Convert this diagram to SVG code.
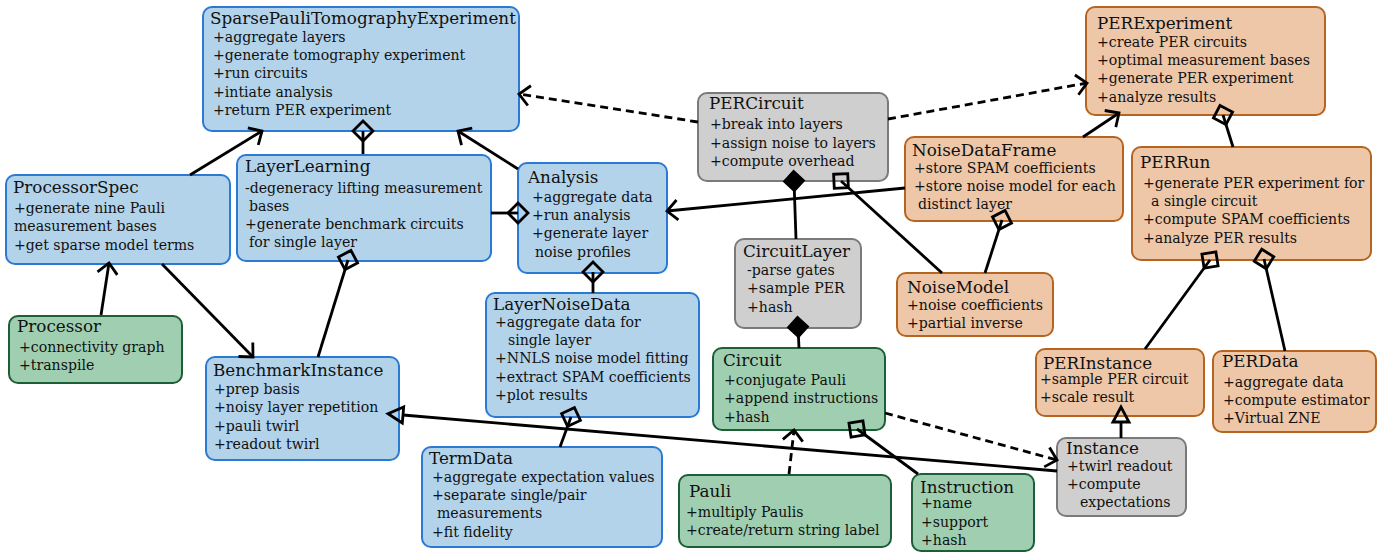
<svg xmlns="http://www.w3.org/2000/svg" width="1391" height="552" viewBox="0 0 1391 552">
<style>
.box{stroke-width:2}
.blue{fill:#b3d3ea;stroke:#2a7ad3}
.green{fill:#9fcfb0;stroke:#1c5e35}
.orange{fill:#edc7a8;stroke:#b5651f}
.gray{fill:#cfcfcf;stroke:#7a7a7a}
.t{font-family:"DejaVu Serif",serif;font-size:16.8px;fill:#111}
.b{font-family:"DejaVu Serif",serif;font-size:14.1px;fill:#111}
.ln{fill:none;stroke:#000;stroke-width:2.8}
.dash{stroke-dasharray:8 5}
</style>
<defs>
<marker id="arr" viewBox="-20 -15 40 30" markerWidth="40" markerHeight="30" refX="0" refY="0" orient="auto" markerUnits="userSpaceOnUse" overflow="visible">
<path d="M-10.5,-10 L0,0 L-10.5,10" fill="none" stroke="#000" stroke-width="2.8" stroke-linejoin="miter"/>
</marker>
<marker id="odia" viewBox="-15 -15 30 30" markerWidth="30" markerHeight="30" refX="0" refY="0" orient="auto" markerUnits="userSpaceOnUse" overflow="visible">
<path d="M-10,0 L0,-10 L10,0 L0,10 Z" fill="none" stroke="#000" stroke-width="2.8"/>
</marker>
<marker id="fdia" viewBox="-15 -15 30 30" markerWidth="30" markerHeight="30" refX="0" refY="0" orient="auto" markerUnits="userSpaceOnUse" overflow="visible">
<path d="M-10,0 L0,-10 L10,0 L0,10 Z" fill="#000" stroke="#000" stroke-width="2"/>
</marker>
<marker id="tri" viewBox="-5 -15 30 30" markerWidth="30" markerHeight="30" refX="0" refY="0" orient="auto" markerUnits="userSpaceOnUse" overflow="visible">
<path d="M0,-8 L15,0 L0,8 Z" fill="none" stroke="#000" stroke-width="2.8" stroke-linejoin="miter"/>
</marker>
</defs>

<g id="SparsePauliTomographyExperiment">
<rect class="box blue" x="203" y="7" width="316" height="124" rx="9"/>
<text class="t" x="210" y="24">SparsePauliTomographyExperiment</text>
<text class="b" x="213" y="42">+aggregate layers</text>
<text class="b" x="213" y="60">+generate tomography experiment</text>
<text class="b" x="213" y="78">+run circuits</text>
<text class="b" x="213" y="97">+intiate analysis</text>
<text class="b" x="213" y="115">+return PER experiment</text>
</g>
<g id="ProcessorSpec">
<rect class="box blue" x="6" y="175" width="224" height="89" rx="9"/>
<text class="t" x="13" y="193">ProcessorSpec</text>
<text class="b" x="14" y="213">+generate nine Pauli</text>
<text class="b" x="14" y="231">measurement bases</text>
<text class="b" x="14" y="250">+get sparse model terms</text>
</g>
<g id="LayerLearning">
<rect class="box blue" x="237" y="155" width="254" height="106" rx="9"/>
<text class="t" x="245" y="172">LayerLearning</text>
<text class="b" x="245" y="193">-degeneracy lifting measurement</text>
<text class="b" x="249" y="211">bases</text>
<text class="b" x="245" y="229">+generate benchmark circuits</text>
<text class="b" x="249" y="247">for single layer</text>
</g>
<g id="Analysis">
<rect class="box blue" x="518" y="163" width="149" height="110" rx="9"/>
<text class="t" x="528" y="183">Analysis</text>
<text class="b" x="532" y="202">+aggregate data</text>
<text class="b" x="532" y="220">+run analysis</text>
<text class="b" x="532" y="238">+generate layer</text>
<text class="b" x="535" y="257">noise profiles</text>
</g>
<g id="LayerNoiseData">
<rect class="box blue" x="486" y="293" width="213" height="124" rx="9"/>
<text class="t" x="493" y="310">LayerNoiseData</text>
<text class="b" x="495" y="327">+aggregate data for</text>
<text class="b" x="508" y="345">single layer</text>
<text class="b" x="495" y="363">+NNLS noise model fitting</text>
<text class="b" x="495" y="382">+extract SPAM coefficients</text>
<text class="b" x="495" y="400">+plot results</text>
</g>
<g id="TermData">
<rect class="box blue" x="422" y="447" width="240" height="100" rx="9"/>
<text class="t" x="429" y="464">TermData</text>
<text class="b" x="432" y="482">+aggregate expectation values</text>
<text class="b" x="432" y="500">+separate single/pair</text>
<text class="b" x="437" y="518">measurements</text>
<text class="b" x="432" y="537">+fit fidelity</text>
</g>
<g id="Processor">
<rect class="box green" x="9" y="316" width="173" height="67" rx="9"/>
<text class="t" x="17" y="332">Processor</text>
<text class="b" x="19" y="352">+connectivity graph</text>
<text class="b" x="19" y="370">+transpile</text>
</g>
<g id="BenchmarkInstance">
<rect class="box blue" x="206" y="357" width="193" height="103" rx="9"/>
<text class="t" x="213" y="376">BenchmarkInstance</text>
<text class="b" x="214" y="394">+prep basis</text>
<text class="b" x="214" y="412">+noisy layer repetition</text>
<text class="b" x="214" y="431">+pauli twirl</text>
<text class="b" x="214" y="449">+readout twirl</text>
</g>
<g id="PERCircuit">
<rect class="box gray" x="698" y="93" width="190" height="88" rx="9"/>
<text class="t" x="709" y="109">PERCircuit</text>
<text class="b" x="710" y="129">+break into layers</text>
<text class="b" x="710" y="148">+assign noise to layers</text>
<text class="b" x="710" y="166">+compute overhead</text>
</g>
<g id="CircuitLayer">
<rect class="box gray" x="735" y="239" width="126" height="89" rx="9"/>
<text class="t" x="743" y="257">CircuitLayer</text>
<text class="b" x="747" y="275">-parse gates</text>
<text class="b" x="747" y="293">+sample PER</text>
<text class="b" x="747" y="312">+hash</text>
</g>
<g id="Circuit">
<rect class="box green" x="713" y="348" width="172" height="82" rx="9"/>
<text class="t" x="723" y="366">Circuit</text>
<text class="b" x="724" y="385">+conjugate Pauli</text>
<text class="b" x="724" y="403">+append instructions</text>
<text class="b" x="724" y="422">+hash</text>
</g>
<g id="Pauli">
<rect class="box green" x="679" y="475" width="212" height="72" rx="9"/>
<text class="t" x="689" y="497">Pauli</text>
<text class="b" x="686" y="517">+multiply Paulis</text>
<text class="b" x="686" y="535">+create/return string label</text>
</g>
<g id="Instruction">
<rect class="box green" x="912" y="474" width="122" height="77" rx="9"/>
<text class="t" x="920" y="493">Instruction</text>
<text class="b" x="921" y="508">+name</text>
<text class="b" x="921" y="527">+support</text>
<text class="b" x="921" y="545">+hash</text>
</g>
<g id="Instance">
<rect class="box gray" x="1057" y="438" width="129" height="78" rx="9"/>
<text class="t" x="1066" y="454">Instance</text>
<text class="b" x="1067" y="471">+twirl readout</text>
<text class="b" x="1067" y="489">+compute</text>
<text class="b" x="1080" y="507">expectations</text>
</g>
<g id="PERExperiment">
<rect class="box orange" x="1086" y="7" width="239" height="108" rx="9"/>
<text class="t" x="1097" y="29">PERExperiment</text>
<text class="b" x="1097" y="47">+create PER circuits</text>
<text class="b" x="1097" y="65">+optimal measurement bases</text>
<text class="b" x="1097" y="83">+generate PER experiment</text>
<text class="b" x="1097" y="102">+analyze results</text>
</g>
<g id="NoiseDataFrame">
<rect class="box orange" x="905" y="137" width="218" height="84" rx="9"/>
<text class="t" x="912" y="156">NoiseDataFrame</text>
<text class="b" x="914" y="173">+store SPAM coefficients</text>
<text class="b" x="914" y="191">+store noise model for each</text>
<text class="b" x="918" y="209">distinct layer</text>
</g>
<g id="PERRun">
<rect class="box orange" x="1132" y="147" width="239" height="113" rx="9"/>
<text class="t" x="1140" y="168">PERRun</text>
<text class="b" x="1143" y="188">+generate PER experiment for</text>
<text class="b" x="1151" y="206">a single circuit</text>
<text class="b" x="1143" y="224">+compute SPAM coefficients</text>
<text class="b" x="1143" y="243">+analyze PER results</text>
</g>
<g id="NoiseModel">
<rect class="box orange" x="897" y="273" width="156" height="63" rx="9"/>
<text class="t" x="907" y="293">NoiseModel</text>
<text class="b" x="907" y="310">+noise coefficients</text>
<text class="b" x="907" y="328">+partial inverse</text>
</g>
<g id="PERInstance">
<rect class="box orange" x="1036" y="349" width="168" height="67" rx="9"/>
<text class="t" x="1043" y="369">PERInstance</text>
<text class="b" x="1040" y="384">+sample PER circuit</text>
<text class="b" x="1040" y="402">+scale result</text>
</g>
<g id="PERData">
<rect class="box orange" x="1213" y="351" width="163" height="81" rx="9"/>
<text class="t" x="1222" y="367">PERData</text>
<text class="b" x="1223" y="387">+aggregate data</text>
<text class="b" x="1223" y="405">+compute estimator</text>
<text class="b" x="1223" y="423">+Virtual ZNE</text>
</g>

<g id="connectors">
<path class="ln" d="M190,175 L262,131" marker-end="url(#arr)"/>
<path class="ln" d="M518,169 L458,131" marker-end="url(#arr)"/>
<path class="ln" d="M101,315 L109,263" marker-end="url(#arr)"/>
<path class="ln" d="M162,264 L253,357" marker-end="url(#arr)"/>
<path class="ln" d="M905,188 L667,211" marker-end="url(#arr)"/>
<path class="ln" d="M1083,137 L1119,113" marker-end="url(#arr)"/>
<path class="ln dash" d="M698,122 L519,94" marker-end="url(#arr)"/>
<path class="ln dash" d="M888,119 L1087,83" marker-end="url(#arr)"/>
<path class="ln dash" d="M789,474 L794,430" marker-end="url(#arr)"/>
<path class="ln dash" d="M885,413 L1057,460" marker-end="url(#arr)"/>
<path class="ln" d="M363,131 L363,154" marker-start="url(#odia)"/>
<path class="ln" d="M518,213 L491,213" marker-start="url(#odia)"/>
<path class="ln" d="M348,260 L318,357" marker-start="url(#odia)"/>
<path class="ln" d="M593,272 L593,293" marker-start="url(#odia)"/>
<path class="ln" d="M571,417 L560,447" marker-start="url(#odia)"/>
<path class="ln" d="M841,181 L942,273" marker-start="url(#odia)"/>
<path class="ln" d="M1002,220 L985,273" marker-start="url(#odia)"/>
<path class="ln" d="M1223,115 L1233,147" marker-start="url(#odia)"/>
<path class="ln" d="M1210,260 L1145,349" marker-start="url(#odia)"/>
<path class="ln" d="M1264,259 L1285,351" marker-start="url(#odia)"/>
<path class="ln" d="M857,429 L918,474" marker-start="url(#odia)"/>
<path class="ln" d="M794,181 L796,239" marker-start="url(#fdia)"/>
<path class="ln" d="M798,327 L799,348" marker-start="url(#fdia)"/>
<path class="ln" d="M1057,471 L403,415" marker-end="url(#tri)"/>
<path class="ln" d="M1121,438 L1121,422" marker-end="url(#tri)"/>
</g>
</svg>
